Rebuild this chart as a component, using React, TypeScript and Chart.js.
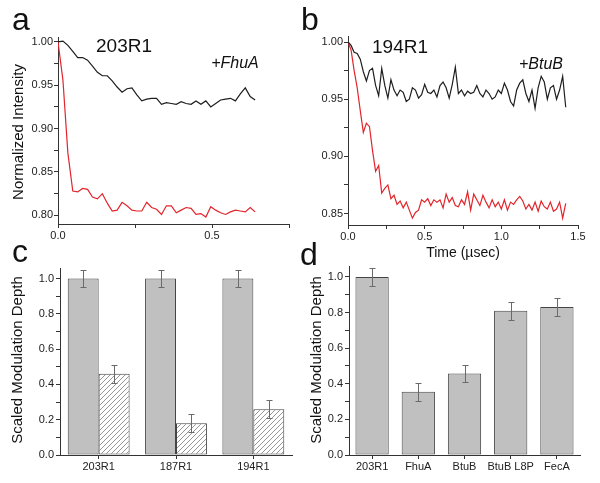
import React, { useEffect, useRef } from 'react';
import { Chart, registerables } from 'chart.js';

Chart.register(...registerables);

const FONT = '"Liberation Sans", Arial, Helvetica, sans-serif';

// ---------- Panel a data (203R1 +FhuA) ----------
const timeA = [0, 0.016, 0.032, 0.048, 0.064, 0.08, 0.096, 0.112, 0.128, 0.144, 0.16, 0.176, 0.192, 0.208, 0.224, 0.24, 0.256, 0.272, 0.288, 0.304, 0.32, 0.336, 0.352, 0.368, 0.384, 0.4, 0.416, 0.432, 0.448, 0.464, 0.48, 0.496, 0.512, 0.528, 0.544, 0.56, 0.576, 0.592, 0.608, 0.624, 0.64];
const blackA = [1.000, 1.001, 0.996, 0.989, 0.982, 0.982, 0.979, 0.972, 0.965, 0.961, 0.961, 0.955, 0.948, 0.942, 0.946, 0.947, 0.939, 0.932, 0.934, 0.935, 0.935, 0.928, 0.930, 0.929, 0.928, 0.931, 0.929, 0.928, 0.932, 0.928, 0.932, 0.925, 0.929, 0.933, 0.934, 0.935, 0.932, 0.940, 0.947, 0.937, 0.933];
const redA = [1.000, 0.956, 0.872, 0.828, 0.827, 0.831, 0.830, 0.821, 0.819, 0.825, 0.814, 0.805, 0.806, 0.815, 0.811, 0.806, 0.805, 0.805, 0.815, 0.809, 0.807, 0.801, 0.811, 0.811, 0.803, 0.806, 0.809, 0.808, 0.801, 0.802, 0.798, 0.810, 0.806, 0.803, 0.801, 0.804, 0.806, 0.805, 0.804, 0.809, 0.804];

// ---------- Panel b data (194R1 +BtuB) ----------
const timeB = [0, 0.02, 0.04, 0.06, 0.08, 0.1, 0.12, 0.14, 0.16, 0.18, 0.2, 0.22, 0.24, 0.26, 0.28, 0.3, 0.32, 0.34, 0.36, 0.38, 0.4, 0.42, 0.44, 0.46, 0.48, 0.5, 0.52, 0.54, 0.56, 0.58, 0.6, 0.62, 0.64, 0.66, 0.68, 0.7, 0.72, 0.74, 0.76, 0.78, 0.8, 0.82, 0.84, 0.86, 0.88, 0.9, 0.92, 0.94, 0.96, 0.98, 1.0, 1.02, 1.04, 1.06, 1.08, 1.1, 1.12, 1.14, 1.16, 1.18, 1.2, 1.22, 1.24, 1.26, 1.28, 1.3, 1.32, 1.34, 1.36, 1.38, 1.4, 1.42];
const blackB = [1.000, 0.997, 0.991, 0.990, 0.985, 0.974, 0.966, 0.975, 0.977, 0.962, 0.953, 0.977, 0.962, 0.951, 0.967, 0.958, 0.953, 0.958, 0.956, 0.948, 0.950, 0.960, 0.958, 0.951, 0.954, 0.963, 0.956, 0.955, 0.958, 0.952, 0.962, 0.965, 0.960, 0.951, 0.963, 0.978, 0.955, 0.958, 0.953, 0.957, 0.955, 0.956, 0.962, 0.955, 0.952, 0.958, 0.955, 0.950, 0.952, 0.958, 0.955, 0.964, 0.958, 0.948, 0.944, 0.958, 0.964, 0.967, 0.955, 0.948, 0.958, 0.942, 0.960, 0.970, 0.965, 0.950, 0.960, 0.962, 0.950, 0.958, 0.970, 0.943];
const redB = [1.000, 0.993, 0.975, 0.960, 0.940, 0.921, 0.929, 0.926, 0.905, 0.887, 0.892, 0.868, 0.872, 0.875, 0.863, 0.866, 0.858, 0.861, 0.855, 0.860, 0.853, 0.846, 0.851, 0.853, 0.862, 0.860, 0.863, 0.857, 0.862, 0.860, 0.862, 0.855, 0.867, 0.860, 0.864, 0.857, 0.856, 0.862, 0.858, 0.869, 0.853, 0.867, 0.862, 0.857, 0.866, 0.860, 0.855, 0.862, 0.856, 0.860, 0.854, 0.862, 0.853, 0.860, 0.858, 0.862, 0.865, 0.861, 0.854, 0.858, 0.853, 0.860, 0.852, 0.861, 0.856, 0.854, 0.860, 0.852, 0.854, 0.860, 0.846, 0.859];

// ---------- Panel c data ----------
const categoriesC = ['203R1', '187R1', '194R1'];
const spinOnlyC = [1.0, 1.0, 1.0];
const spinOnlyErrC = [0.05, 0.05, 0.05];
const withPartnerC = [0.46, 0.18, 0.26];
const withPartnerErrC = [0.05, 0.05, 0.05];

// ---------- Panel d data ----------
const categoriesD = ['203R1', 'FhuA', 'BtuB', 'BtuB L8P', 'FecA'];
const depthD = [1.0, 0.355, 0.458, 0.81, 0.832];
const depthErrD = [0.05, 0.05, 0.05, 0.05, 0.05];

type TextItem = { text: string; x: number; y: number; font: string; align?: CanvasTextAlign; baseline?: CanvasTextBaseline; rotate?: number; color?: string };

function textPlugin(items: TextItem[]) {
  return {
    id: 'panelText',
    afterDraw(chart: any) {
      const ctx = chart.ctx as CanvasRenderingContext2D;
      items.forEach((it) => {
        ctx.save();
        ctx.font = it.font;
        ctx.fillStyle = it.color || '#111';
        ctx.textAlign = it.align || 'left';
        ctx.textBaseline = it.baseline || 'alphabetic';
        ctx.translate(it.x, it.y);
        if (it.rotate) ctx.rotate(it.rotate);
        ctx.fillText(it.text, 0, 0);
        ctx.restore();
      });
    },
  };
}

function errorBarPlugin(errs: (number[] | null)[]) {
  return {
    id: 'errorBars',
    afterDatasetsDraw(chart: any) {
      const ctx = chart.ctx as CanvasRenderingContext2D;
      const y = chart.scales.y;
      chart.data.datasets.forEach((ds: any, i: number) => {
        const e = errs[i];
        if (!e) return;
        const meta = chart.getDatasetMeta(i);
        meta.data.forEach((bar: any, j: number) => {
          const v = ds.data[j];
          const top = Math.round(y.getPixelForValue(v + e[j])) + 0.5;
          const bot = Math.round(y.getPixelForValue(v - e[j])) + 0.5;
          const x = Math.round(bar.x) + 0.5;
          ctx.save();
          ctx.strokeStyle = '#6a6a6a';
          ctx.lineWidth = 1;
          ctx.beginPath();
          ctx.moveTo(x, top);
          ctx.lineTo(x, bot);
          ctx.moveTo(x - 3, top);
          ctx.lineTo(x + 3, top);
          ctx.moveTo(x - 3, bot);
          ctx.lineTo(x + 3, bot);
          ctx.stroke();
          ctx.restore();
        });
      });
    },
  };
}

const near = (v: number, step: number) => Math.abs(Math.round(v / step) * step - v) < 1e-6;

const tickFont = { family: FONT, size: 11 };
const axisColor = '#333';

function lineScales(xMax: number, yMin: number, yMax: number, yWidth: number, xHeight: number) {
  return {
    x: {
      type: 'linear' as const,
      min: 0,
      max: xMax,
      border: { display: true, color: axisColor, width: 1 },
      grid: { drawOnChartArea: false, drawTicks: true, tickLength: 4, tickColor: axisColor },
      ticks: {
        stepSize: 0.25,
        includeBounds: false,
        autoSkip: false,
        maxRotation: 0,
        padding: 1,
        color: '#222',
        font: tickFont,
        callback: (v: any) => (near(Number(v), 0.5) ? Number(v).toFixed(1) : ''),
      },
      afterFit: (s: any) => { s.height = xHeight; },
    },
    y: {
      type: 'linear' as const,
      min: yMin,
      max: yMax,
      border: { display: true, color: axisColor, width: 1 },
      grid: { drawOnChartArea: false, drawTicks: true, tickLength: 4, tickColor: axisColor },
      ticks: {
        stepSize: 0.025,
        includeBounds: false,
        autoSkip: false,
        maxTicksLimit: 100,
        padding: 1,
        color: '#222',
        font: tickFont,
        callback: (v: any) => (near(Number(v), 0.05) ? Number(v).toFixed(2) : ''),
      },
      afterFit: (s: any) => { s.width = yWidth; },
    },
  };
}

function barScales(yWidth: number, xHeight: number) {
  return {
    x: {
      type: 'category' as const,
      offset: true,
      border: { display: true, color: axisColor, width: 1 },
      grid: { offset: false, drawOnChartArea: false, drawTicks: true, tickLength: 4, tickColor: axisColor },
      ticks: { autoSkip: false, maxRotation: 0, padding: 1, color: '#222', font: tickFont },
      afterFit: (s: any) => { s.height = xHeight; },
    },
    y: {
      type: 'linear' as const,
      min: 0,
      max: 1.06,
      border: { display: true, color: axisColor, width: 1 },
      grid: { drawOnChartArea: false, drawTicks: true, tickLength: 4, tickColor: axisColor },
      ticks: {
        stepSize: 0.1,
        includeBounds: false,
        autoSkip: false,
        maxTicksLimit: 100,
        padding: 2,
        color: '#222',
        font: tickFont,
        callback: (v: any) => (near(Number(v), 0.2) ? Number(v).toFixed(1) : ''),
      },
      afterFit: (s: any) => { s.width = yWidth; },
    },
  };
}

function makeHatch(): CanvasPattern | string {
  const c = document.createElement('canvas');
  c.width = 5;
  c.height = 5;
  const g = c.getContext('2d');
  if (!g) return '#fff';
  g.fillStyle = '#ffffff';
  g.fillRect(0, 0, 5, 5);
  g.strokeStyle = '#8a8a8a';
  g.lineWidth = 0.9;
  g.beginPath();
  g.moveTo(0, 5);
  g.lineTo(5, 0);
  g.moveTo(-1, 1);
  g.lineTo(1, -1);
  g.moveTo(4, 6);
  g.lineTo(6, 4);
  g.stroke();
  const p = g.createPattern(c, 'repeat');
  return p || '#fff';
}

const BLACK = '#1e1e1e';
const RED = '#e2242b';
const GRAY = '#c0c0c0';
const BAR_BORDER = '#444';

export default function App() {
  const refA = useRef<HTMLCanvasElement>(null);
  const refB = useRef<HTMLCanvasElement>(null);
  const refC = useRef<HTMLCanvasElement>(null);
  const refD = useRef<HTMLCanvasElement>(null);

  useEffect(() => {
    const charts: Chart[] = [];
    const letterFont = `32px ${FONT}`;
    const titleFont = `15px ${FONT}`;

    // Panel a
    charts.push(new Chart(refA.current as HTMLCanvasElement, {
      type: 'line',
      data: {
        datasets: [
          { label: '203R1', data: timeA.map((t, i) => ({ x: t, y: blackA[i] })), borderColor: BLACK, borderWidth: 1.2, pointRadius: 0, tension: 0, fill: false },
          { label: '203R1 +FhuA', data: timeA.map((t, i) => ({ x: t, y: redA[i] })), borderColor: RED, borderWidth: 1.2, pointRadius: 0, tension: 0, fill: false },
        ],
      },
      options: {
        responsive: false,
        animation: false,
        devicePixelRatio: 1,
        layout: { padding: { left: 0, right: 11, top: 37.6, bottom: 0 } },
        plugins: { legend: { display: false }, tooltip: { enabled: false } },
        scales: lineScales(0.75, 0.79, 1.005, 58, 21) as any,
      },
      plugins: [textPlugin([
        { text: 'a', x: 12, y: 30, font: letterFont },
        { text: '203R1', x: 124, y: 52, font: `19px ${FONT}`, align: 'center' },
        { text: '+FhuA', x: 235, y: 68, font: `italic 16px ${FONT}`, align: 'center' },
        { text: 'Normalized Intensity', x: 19, y: 132, font: titleFont, align: 'center', baseline: 'middle', rotate: -Math.PI / 2 },
      ])],
    }));

    // Panel b
    charts.push(new Chart(refB.current as HTMLCanvasElement, {
      type: 'line',
      data: {
        datasets: [
          { label: '194R1', data: timeB.map((t, i) => ({ x: t, y: blackB[i] })), borderColor: BLACK, borderWidth: 1.2, pointRadius: 0, tension: 0, fill: false },
          { label: '194R1 +BtuB', data: timeB.map((t, i) => ({ x: t, y: redB[i] })), borderColor: RED, borderWidth: 1.2, pointRadius: 0, tension: 0, fill: false },
        ],
      },
      options: {
        responsive: false,
        animation: false,
        devicePixelRatio: 1,
        layout: { padding: { left: 0, right: 22, top: 36.3, bottom: 0 } },
        plugins: { legend: { display: false }, tooltip: { enabled: false } },
        scales: lineScales(1.5, 0.84, 1.005, 48, 40) as any,
      },
      plugins: [textPlugin([
        { text: 'b', x: 1, y: 30, font: letterFont },
        { text: '194R1', x: 100, y: 53, font: `19px ${FONT}`, align: 'center' },
        { text: '+BtuB', x: 241, y: 69, font: `italic 16px ${FONT}`, align: 'center' },
        { text: 'Time (\u00b5sec)', x: 163, y: 253, font: `14px ${FONT}`, align: 'center', baseline: 'middle' },
      ])],
    }));

    // Panel c
    const hatch = makeHatch();
    charts.push(new Chart(refC.current as HTMLCanvasElement, {
      type: 'bar',
      data: {
        labels: categoriesC,
        datasets: [
          { label: 'spin label', data: spinOnlyC, backgroundColor: GRAY, borderColor: BAR_BORDER, borderWidth: 1, borderSkipped: false, categoryPercentage: 0.8, barPercentage: 1.0 },
          { label: 'with partner', data: withPartnerC, backgroundColor: hatch as any, borderColor: BAR_BORDER, borderWidth: 1, borderSkipped: false, categoryPercentage: 0.8, barPercentage: 1.0 },
        ],
      },
      options: {
        responsive: false,
        animation: false,
        devicePixelRatio: 1,
        layout: { padding: { left: 0, right: 8, top: 28, bottom: 0 } },
        plugins: { legend: { display: false }, tooltip: { enabled: false } },
        scales: barScales(60, 28) as any,
      },
      plugins: [
        errorBarPlugin([spinOnlyErrC, withPartnerErrC]),
        textPlugin([
          { text: 'c', x: 12, y: 22, font: letterFont },
          { text: 'Scaled Modulation Depth', x: 18, y: 120, font: titleFont, align: 'center', baseline: 'middle', rotate: -Math.PI / 2 },
        ]),
      ],
    }));

    // Panel d
    charts.push(new Chart(refD.current as HTMLCanvasElement, {
      type: 'bar',
      data: {
        labels: categoriesD,
        datasets: [
          { label: 'modulation depth', data: depthD, backgroundColor: GRAY, borderColor: BAR_BORDER, borderWidth: 1, borderSkipped: false, categoryPercentage: 1.0, barPercentage: 0.72 },
        ],
      },
      options: {
        responsive: false,
        animation: false,
        devicePixelRatio: 1,
        layout: { padding: { left: 0, right: 20, top: 26.3, bottom: 0 } },
        plugins: { legend: { display: false }, tooltip: { enabled: false } },
        scales: barScales(49, 28) as any,
      },
      plugins: [
        errorBarPlugin([depthErrD]),
        textPlugin([
          { text: 'd', x: 0, y: 25, font: letterFont },
          { text: 'Scaled Modulation Depth', x: 17, y: 120, font: titleFont, align: 'center', baseline: 'middle', rotate: -Math.PI / 2 },
        ]),
      ],
    }));

    return () => { charts.forEach((c) => c.destroy()); };
  }, []);

  const box = (left: number, top: number): React.CSSProperties => ({ position: 'absolute', left, top });

  return (
    <div style={{ position: 'absolute', left: 0, top: 0, width: 600, height: 483, background: '#fff', overflow: 'hidden' }}>
      <canvas ref={refA} width={300} height={245} style={box(0, 0)} />
      <canvas ref={refB} width={300} height={265} style={box(300, 0)} />
      <canvas ref={refC} width={300} height={243} style={box(0, 240)} />
      <canvas ref={refD} width={300} height={243} style={box(300, 240)} />
    </div>
  );
}
